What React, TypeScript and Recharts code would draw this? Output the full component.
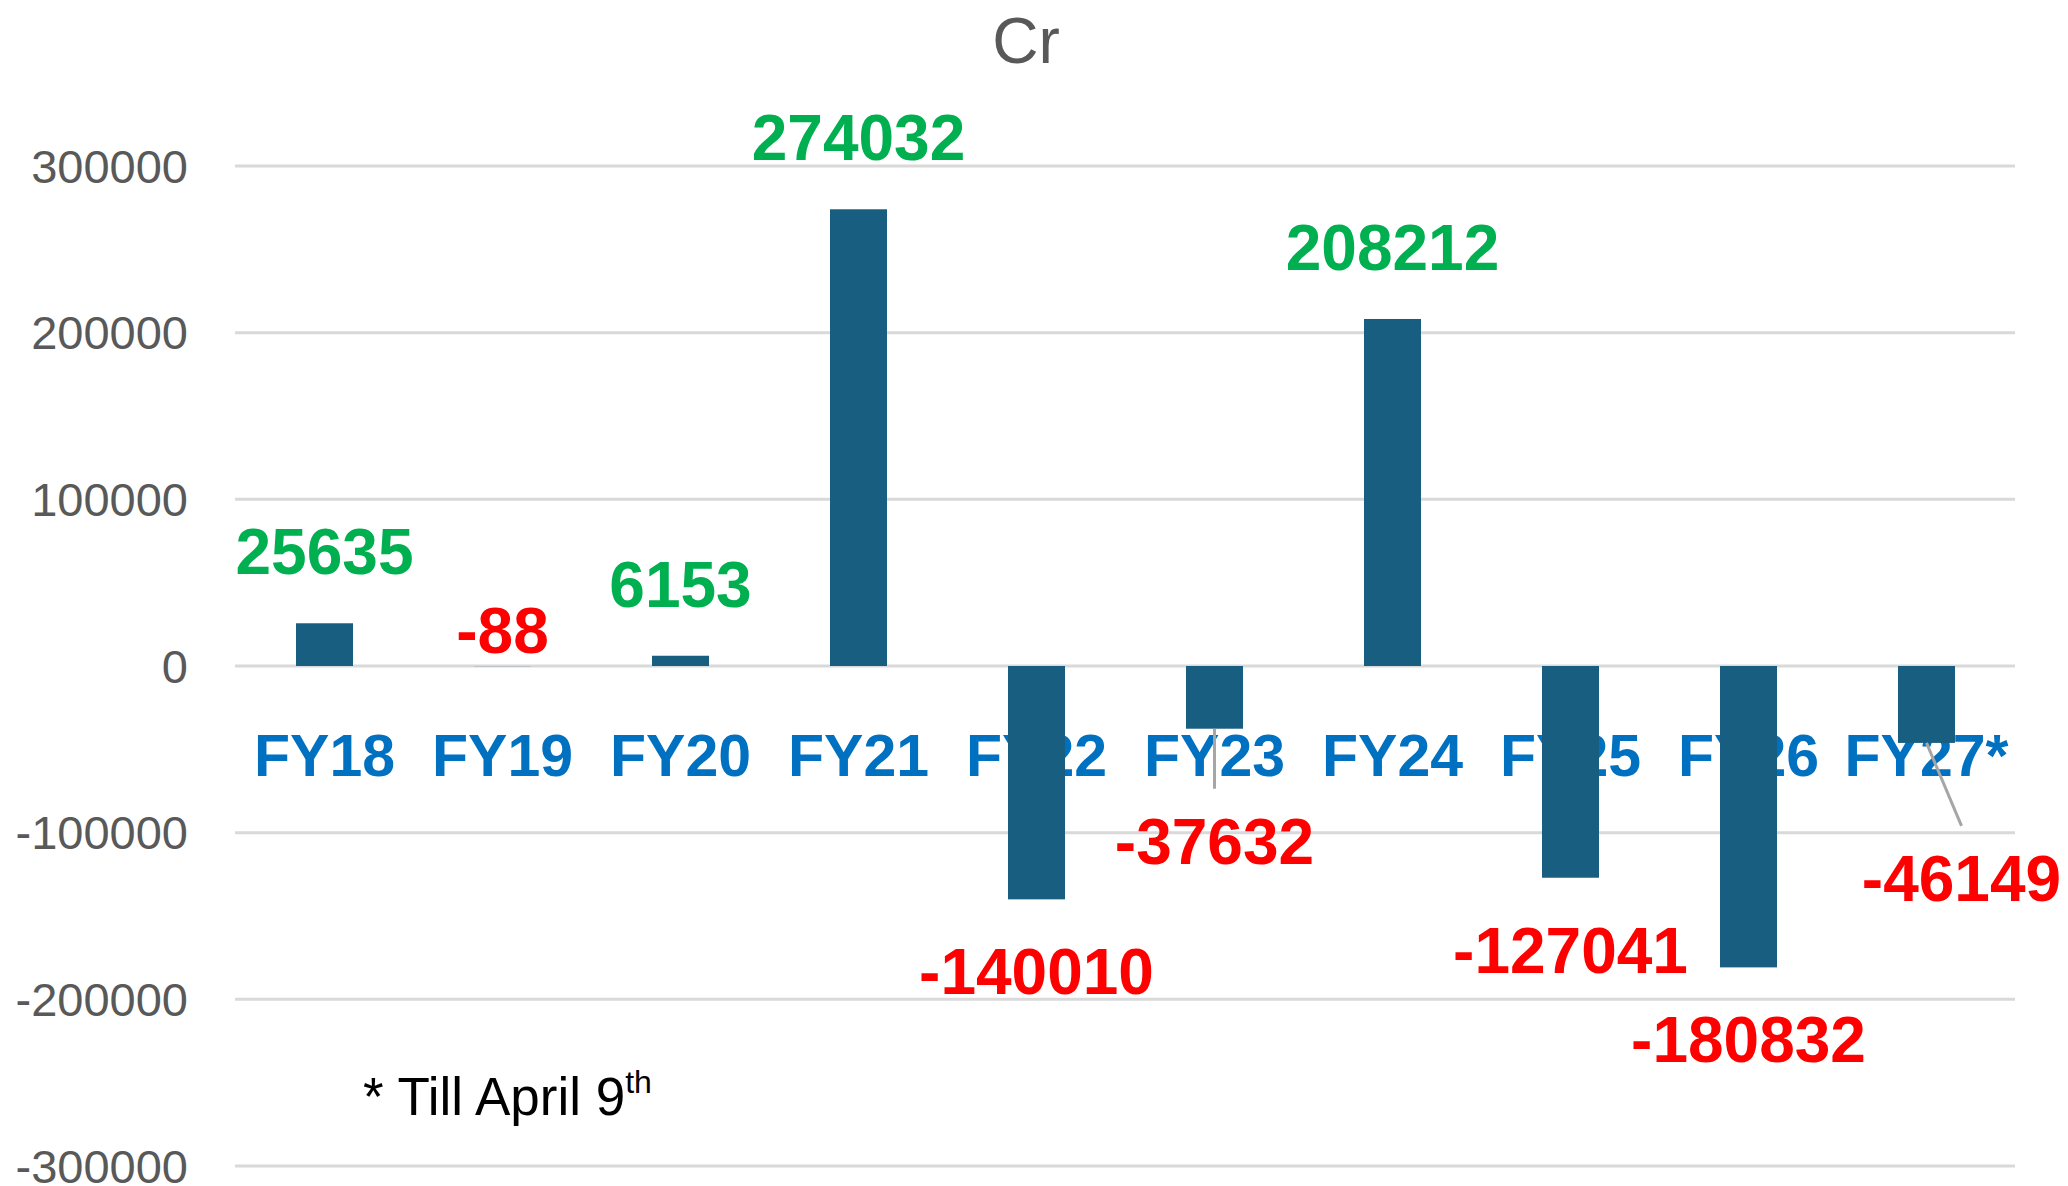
import { BarChart, Bar, XAxis, YAxis, CartesianGrid, LabelList } from "recharts"

const categories = ["FY18", "FY19", "FY20", "FY21", "FY22", "FY23", "FY24", "FY25", "FY26", "FY27*"]
const netFlows = [25635, -88, 6153, 274032, -140010, -37632, 208212, -127041, -180832, -46149]
const yTicks = [-300000, -200000, -100000, 0, 100000, 200000, 300000]

const data = categories.map((cat, i) => ({ cat, value: netFlows[i] }))

const W = 2068
const H = 1186
const PLOT_TOP = 166
const PLOT_BOTTOM = 20
const PLOT_H = H - PLOT_TOP - PLOT_BOTTOM
const ZERO_Y = PLOT_TOP + PLOT_H / 2
const FONT = '"Liberation Sans", Arial, sans-serif'
const BAR_COLOR = "#185e80"

// label layout tweaks (Excel moved some of them by hand)
const LABEL_GAP = 72
const labelTweaks: Record<string, { dx?: number; gap?: number; leader?: boolean; above?: boolean }> = {
  FY19: { above: true, gap: 36 },
  FY23: { gap: 112, leader: true },
  "FY27*": { dx: 35, gap: 135, leader: true },
}

function ValueLabel(props: any) {
  const { x, y, width, height, value, index } = props
  const cat = categories[index]
  const t = labelTweaks[cat] || {}
  const top = Math.min(y, y + height)
  const bottom = Math.max(y, y + height)
  const gap = t.gap ?? LABEL_GAP
  const barX = x + width / 2
  const cx = barX + (t.dx || 0)
  const cy = value >= 0 || t.above ? top - gap : bottom + gap
  return (
    <g>
      {t.leader && (
        <line x1={barX} y1={bottom} x2={cx} y2={cy - 52} stroke="#a6a6a6" strokeWidth={3} />
      )}
      <text
        x={cx}
        y={cy}
        dy="0.36em"
        textAnchor="middle"
        fontFamily={FONT}
        fontWeight="bold"
        fontSize={64}
        fill={value >= 0 ? "#00b050" : "#ff0000"}
      >
        {value}
      </text>
    </g>
  )
}

// category name is drawn with the bar so the bar sits on top of it, like in Excel
function BarWithCategory(props: any) {
  const { x, y, width, height, payload } = props
  const top = Math.min(y, y + height)
  const h = Math.abs(height)
  return (
    <g>
      <text
        x={x + width / 2}
        y={ZERO_Y + 89}
        dy="0.36em"
        textAnchor="middle"
        fontFamily={FONT}
        fontWeight="bold"
        fontSize={59}
        fill="#0070c0"
      >
        {payload.cat}
      </text>
      <rect x={x} y={top} width={width} height={h} fill={BAR_COLOR} />
    </g>
  )
}

export default function App() {
  return (
    <div style={{ position: "absolute", left: 0, top: 0, width: W, height: H, background: "#fff" }}>
      <div
        style={{
          position: "absolute",
          left: 0,
          width: 2052,
          top: 9,
          textAlign: "center",
          fontFamily: FONT,
          fontSize: 64,
          lineHeight: 1,
          color: "#595959",
        }}
      >
        Cr
      </div>
      <BarChart width={W} height={H} data={data} margin={{ top: PLOT_TOP, right: 53, bottom: PLOT_BOTTOM - 10, left: 0 }}>
        <CartesianGrid vertical={false} stroke="#d9d9d9" strokeWidth={3} />
        <XAxis dataKey="cat" height={10} axisLine={false} tickLine={false} tick={false} />
        <YAxis
          width={235}
          domain={[-300000, 300000]}
          ticks={yTicks}
          interval={0}
          axisLine={false}
          tickLine={false}
          tickSize={0}
          tickMargin={47}
          tick={{ fill: "#595959", fontSize: 47, fontFamily: FONT }}
        />
        <Bar dataKey="value" fill={BAR_COLOR} barSize={57} isAnimationActive={false} shape={<BarWithCategory />}>
          <LabelList dataKey="value" content={<ValueLabel />} />
        </Bar>
      </BarChart>
      <div
        style={{
          position: "absolute",
          left: 363,
          top: 1066,
          fontFamily: FONT,
          fontSize: 53,
          lineHeight: 1,
          color: "#000",
          whiteSpace: "nowrap",
        }}
      >
        * Till April 9<sup style={{ fontSize: 32, verticalAlign: 22 }}>th</sup>
      </div>
    </div>
  )
}
